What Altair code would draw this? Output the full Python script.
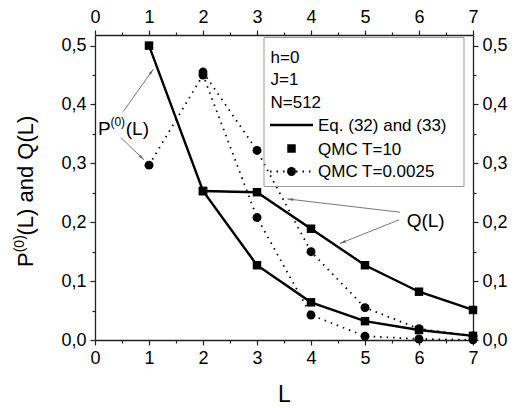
import math
import altair as alt
import pandas as pd

# ---------------- data ----------------
L_P = [1, 2, 3, 4, 5, 6, 7]
L_Q = [2, 3, 4, 5, 6, 7]

# Eq. (32) and (33) (solid lines)
p_eq = [0.500, 0.253, 0.127, 0.064, 0.032, 0.017, 0.007]
q_eq = [0.253, 0.251, 0.189, 0.127, 0.082, 0.051]
# QMC T=10 (squares)
p_t10 = [0.500, 0.253, 0.127, 0.064, 0.032, 0.017, 0.007]
q_t10 = [0.253, 0.251, 0.189, 0.127, 0.082, 0.051]
# QMC T=0.0025 (dotted line + circles)
p_t0025 = [0.297, 0.450, 0.208, 0.0425, 0.0065, 0.0017, 0.0003]
q_t0025 = [0.455, 0.322, 0.150, 0.055, 0.019, 0.007]

legend_params = ["h=0", "J=1", "N=512"]
legend_series = ["Eq. (32) and (33)", "QMC T=10", "QMC T=0.0025"]

x_ticks = [i * 0.5 for i in range(15)]
y_ticks = [round(i * 0.05, 2) for i in range(11)]

X_DOMAIN = [0, 7]
Y_DOMAIN = [0, 0.518]
W, H = 378, 305
FONT = "Liberation Sans"

# annotations (data units)
arrows = pd.DataFrame({
    "x": [0.524, 0.476, 5.648, 5.63],
    "y": [0.388, 0.344, 0.217, 0.204],
    "x2": [1.08, 0.907, 3.561, 4.537],
    "y2": [0.460, 0.306, 0.2396, 0.164],
})
def head_angle(r):
    dx = (r.x2 - r.x) * W / (X_DOMAIN[1] - X_DOMAIN[0])
    dy = -(r.y2 - r.y) * H / (Y_DOMAIN[1] - Y_DOMAIN[0])
    return (math.degrees(math.atan2(dx, -dy)) + 360) % 360
arrows["angle"] = arrows.apply(head_angle, axis=1)

# ---------------- tables ----------------
def long(xs, ys, name):
    return pd.DataFrame({"L": xs, "v": ys, "curve": name})

eq_df = pd.concat([long(L_P, p_eq, "P"), long(L_Q, q_eq, "Q")])
t10_df = pd.concat([long(L_P, p_t10, "P"), long(L_Q, q_t10, "Q")])
t0025_df = pd.concat([long(L_P, p_t0025, "P"), long(L_Q, q_t0025, "Q")])

xs = alt.Scale(domain=X_DOMAIN, nice=False, zero=False)
ys = alt.Scale(domain=Y_DOMAIN, nice=False, zero=False)

x_label = "datum.value % 1 === 0 ? format(datum.value, 'd') : ''"
y_label = "round(datum.value*100) % 10 === 0 ? replace(format(datum.value, '.1f'), '.', ',') : ''"
x_tick = {"condition": {"test": "datum.value % 1 === 0", "value": 5}, "value": 3}
y_tick = {"condition": {"test": "round(datum.value*100) % 10 === 0", "value": 5}, "value": 3}

common = dict(grid=False, labelFontSize=18, labelFont=FONT, labelColor="black",
              domainColor="#222", tickColor="#222", domainWidth=1.3, tickWidth=1.2,
              labelOverlap=False, labelFlush=False)

def xa(orient, title=None):
    kw = dict(common)
    if title:
        kw.update(title=title, titleFontSize=23, titleFont=FONT, titleFontWeight="normal",
                  titleColor="black", titlePadding=16)
    else:
        kw.update(title=None)
    return alt.Axis(orient=orient, values=x_ticks, labelExpr=x_label, tickSize=x_tick,
                    labelPadding=4, **kw)

def ya(orient):
    return alt.Axis(orient=orient, values=y_ticks, labelExpr=y_label, tickSize=y_tick,
                    labelPadding=4, title=None, **common)

eq_lines = alt.Chart(eq_df).mark_line(color="black", strokeWidth=2.4).encode(
    x=alt.X("L:Q", scale=xs, axis=xa("bottom", "L")),
    y=alt.Y("v:Q", scale=ys, axis=ya("left")),
    detail="curve:N",
)
squares = alt.Chart(t10_df).mark_point(shape="square", filled=True, color="black",
                                        size=72, opacity=1).encode(
    x=alt.X("L:Q", scale=xs, axis=xa("top")),
    y=alt.Y("v:Q", scale=ys, axis=ya("right")),
)
dotted = alt.Chart(t0025_df).mark_line(color="black", strokeWidth=1.8,
                                        strokeDash=[1.5, 5]).encode(
    x=alt.X("L:Q", scale=xs, axis=None),
    y=alt.Y("v:Q", scale=ys, axis=None),
    detail="curve:N",
)
circles = alt.Chart(t0025_df).mark_circle(color="black", size=80, opacity=1).encode(
    x=alt.X("L:Q", scale=xs, axis=None),
    y=alt.Y("v:Q", scale=ys, axis=None),
)

arrow_lines = alt.Chart(arrows).mark_rule(color="#777", strokeWidth=1).encode(
    x=alt.X("x:Q", scale=xs, axis=None), y=alt.Y("y:Q", scale=ys, axis=None),
    x2="x2:Q", y2="y2:Q",
)
arrow_heads = alt.Chart(arrows).mark_point(
    shape="M0,0 L-0.45,2 L0.45,2 Z", filled=True, color="#666", size=36, opacity=1
).encode(
    x=alt.X("x2:Q", scale=xs, axis=None), y=alt.Y("y2:Q", scale=ys, axis=None),
    angle=alt.Angle("angle:Q", scale=None),
)

ann = pd.DataFrame({
    "x": [0.056, 0.285, 0.57, 5.772],
    "y": [0.348, 0.364, 0.348, 0.1925],
    "t": ["P", "(0)", "(L)", "Q(L)"],
    "fs": [19, 12, 19, 19],
})
ann_text = alt.Chart(ann).mark_text(align="left", baseline="alphabetic", font=FONT,
                                     color="black").encode(
    x=alt.X("x:Q", scale=xs, axis=None), y=alt.Y("y:Q", scale=ys, axis=None),
    text="t:N", size=alt.Size("fs:Q", scale=None),
)

# y-axis title (rotated, with superscript)
one = pd.DataFrame({"a": [0]})
def txt(t, x, y, fs, angle=0, align="left"):
    return alt.Chart(one).mark_text(text=t, align=align, baseline="alphabetic", font=FONT,
                                    fontSize=fs, angle=angle, color="black").encode(
        x=alt.value(x), y=alt.value(y))

ytitle = [
    txt("P", -62, 232, 22, 270),
    txt("(0)", -71.5, 217.3, 14, 270),
    txt("(L) and Q(L)", -62, 200.5, 22, 270),
]

# legend box
box = alt.Chart(one).mark_rect(fill=None, stroke="#999", strokeWidth=1).encode(
    x=alt.value(169), x2=alt.value(369), y=alt.value(2.5), y2=alt.value(151.5))
leg = [txt(legend_params[0], 175.5, 28, 17),
       txt(legend_params[1], 175.5, 50, 17),
       txt(legend_params[2], 175.5, 73, 17),
       txt(legend_series[0], 223, 96, 17),
       txt(legend_series[1], 223, 120, 17),
       txt(legend_series[2], 223, 142, 17)]
leg_line = alt.Chart(one).mark_rule(color="black", strokeWidth=2.4).encode(
    x=alt.value(175), x2=alt.value(218), y=alt.value(90), y2=alt.value(90))
leg_dots = alt.Chart(one).mark_rule(color="black", strokeWidth=1.8, strokeDash=[1.5, 5]).encode(
    x=alt.value(175), x2=alt.value(218), y=alt.value(136.5), y2=alt.value(136.5))
leg_sq = alt.Chart(one).mark_point(shape="square", filled=True, color="black", size=72,
                                   opacity=1).encode(x=alt.value(196.5), y=alt.value(113.5))
leg_ci = alt.Chart(one).mark_circle(color="black", size=80, opacity=1).encode(
    x=alt.value(196.5), y=alt.value(136.5))

chart = alt.layer(
    eq_lines, squares, dotted, circles, arrow_lines, arrow_heads, ann_text,
    *ytitle, box, *leg, leg_line, leg_dots, leg_sq, leg_ci,
).resolve_axis(x="independent", y="independent").properties(
    width=W, height=H,
    autosize=alt.AutoSizeParams(type="none"),
    padding={"left": 95, "top": 35, "right": 49, "bottom": 68},
    background="white",
).configure_view(stroke=None)

chart.save("out.html", embed_options={"renderer": "svg", "actions": False})
